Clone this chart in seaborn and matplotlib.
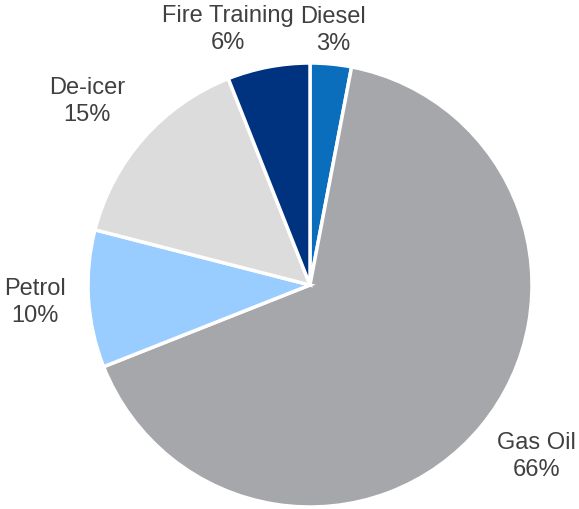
import numpy as np
import matplotlib
matplotlib.use("Agg")
import matplotlib.pyplot as plt
import seaborn as sns

# fuel use shares (percent), clockwise from 12 o'clock
categories = ["Diesel", "Gas Oil", "Petrol", "De-icer", "Fire Training"]
shares = [3, 66, 10, 15, 6]
colors = ["#0A6EBD", "#A6A7AB", "#99CCFF", "#DCDCDC", "#00337F"]
# label placement: distance out (in radii) and angle nudge (deg) from wedge middle
label_dist = [1.15, 1.28, 1.24, 1.30, 1.21]
label_nudge = [0.2, 2.4, 0.0, 2.0, 7.0]

sns.set_theme(style="white")
plt.rcParams["font.family"] = ["Liberation Sans", "DejaVu Sans"]

fig = plt.figure(figsize=(5.79, 5.09), dpi=100)
ax = fig.add_axes([88 / 579, 2 / 509, 444 / 579, 444 / 509])

wedges, _ = ax.pie(shares, colors=colors, startangle=90, counterclock=False,
                   wedgeprops=dict(edgecolor="white", linewidth=2.5))
ax.set_xlim(-1, 1)
ax.set_ylim(-1, 1)

for w, name, val, d, nudge in zip(wedges, categories, shares, label_dist, label_nudge):
    ang = np.deg2rad((w.theta1 + w.theta2) / 2 + nudge)
    ax.text(d * np.cos(ang), d * np.sin(ang), f"{name}\n{val}%",
            ha="center", va="center", fontsize=17, color="#404040",
            linespacing=1.3, clip_on=False)

fig.savefig("out.png", dpi=100)
